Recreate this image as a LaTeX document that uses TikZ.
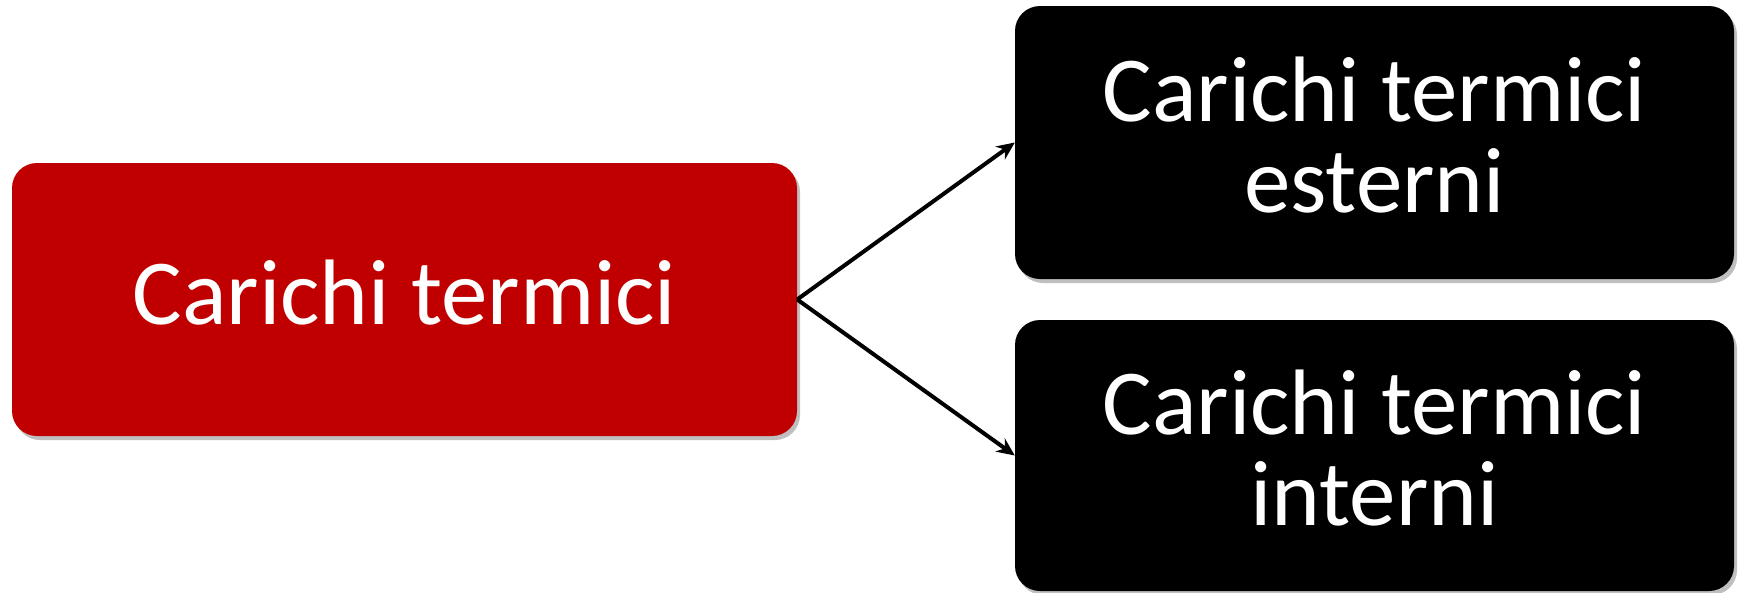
\documentclass[tikz,border=0pt]{standalone}
\usepackage{fontspec}
\setmainfont{Carlito}
\usetikzlibrary{shadows,arrows.meta}
\definecolor{boxred}{HTML}{C00000}
\tikzset{
  box/.style={rounded corners=25pt, inner sep=0pt,
    drop shadow={shadow xshift=3pt, shadow yshift=-4pt, opacity=0.25, fill=black}},
  boxtext/.style={text=white, align=center, inner sep=0pt, yshift=7pt,
    font=\fontsize{93}{91}\selectfont},
  conn/.style={line width=4pt, -{Stealth[length=18pt,width=16pt]}}
}
\begin{document}
\begin{tikzpicture}[x=1pt,y=-1pt]
\useasboundingbox (0,0) rectangle (1741,592);
\node[box, fill=boxred, minimum width=785pt, minimum height=273pt,
  label={[boxtext]center:Carichi termici}] (src) at (404.5,299.5) {};
\node[box, fill=black, minimum width=719pt, minimum height=273pt,
  label={[boxtext]center:Carichi termici\\esterni}] (ext) at (1374.5,142.5) {};
\node[box, fill=black, minimum width=719pt, minimum height=271pt,
  label={[boxtext]center:Carichi termici\\interni}] (int) at (1374.5,455.5) {};
\draw[conn] (src.east) -- (ext.west);
\draw[conn] (src.east) -- (int.west);
\end{tikzpicture}
\end{document}
